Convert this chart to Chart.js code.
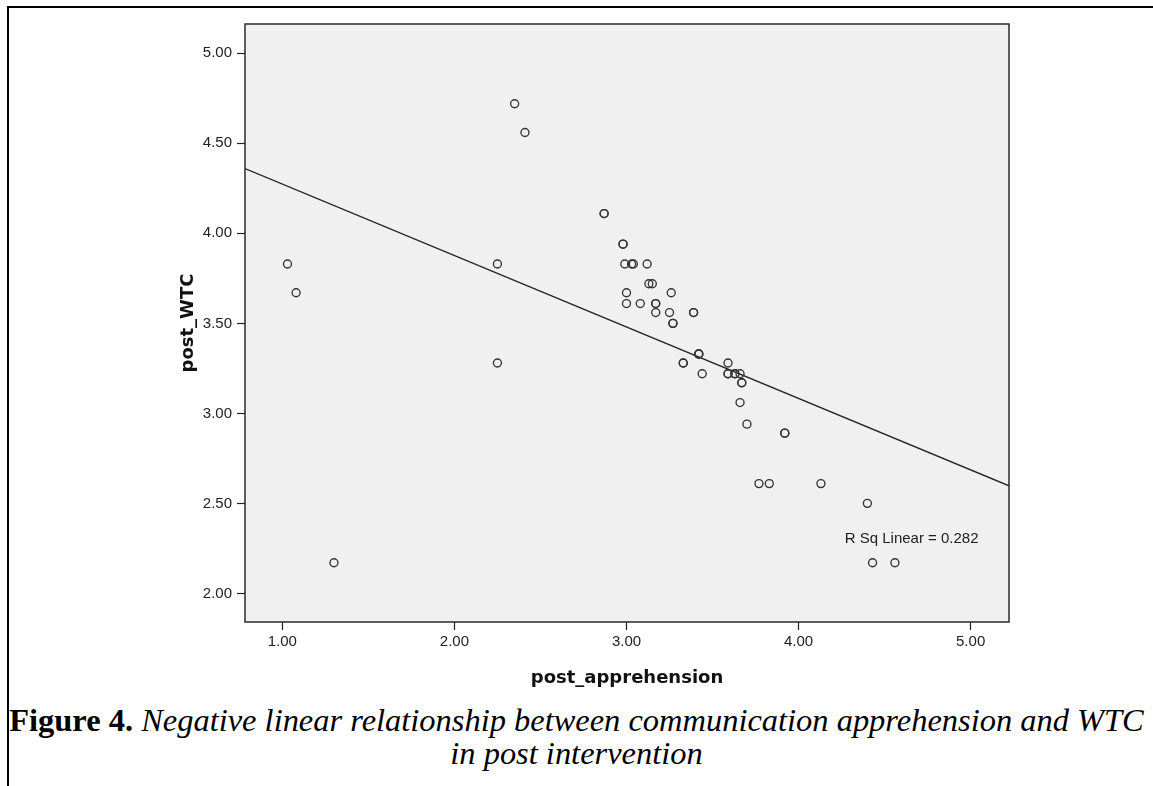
<!DOCTYPE html>
<html><head><meta charset="utf-8">
<script src="https://cdn.jsdelivr.net/npm/chart.js@4.4.0/dist/chart.umd.min.js"></script>
<style>
html,body{margin:0;padding:0;background:#fff;width:1153px;height:786px;overflow:hidden;position:relative;}
#frame{position:absolute;left:7px;top:6px;width:1160px;height:800px;border-top:2px solid #000;border-left:2px solid #000;}
#wrap{position:absolute;left:0;top:0;width:1153px;height:700px;}
.cap{position:absolute;left:0;width:1153px;text-align:center;font-family:"Liberation Serif","Times New Roman",serif;color:#000;white-space:nowrap;line-height:1;}
.cap span{display:inline-block;}
</style></head><body>
<div id="frame"></div>
<div id="wrap"><canvas id="c"></canvas></div>
<div class="cap" id="cap1"><span id="cap1s"><b>Figure 4.</b> <i>Negative linear relationship between communication apprehension and WTC</i></span></div>
<div class="cap" id="cap2"><span><i>in post intervention</i></span></div>
<script>
// ---- data ----
const apprehension = [1.03,1.08,1.30,2.25,2.25,2.35,2.41,2.87,2.87,2.98,2.98,2.99,3.03,3.04,3.12,3.13,3.15,3.00,3.26,3.00,3.08,3.17,3.17,3.17,3.25,3.39,3.39,3.27,3.27,3.42,3.42,3.42,3.33,3.33,3.59,3.44,3.59,3.59,3.63,3.63,3.66,3.67,3.67,3.66,3.70,3.92,3.92,3.77,3.83,4.13,4.40,4.43,4.56];
const postWTC      = [3.83,3.67,2.17,3.83,3.28,4.72,4.56,4.11,4.11,3.94,3.94,3.83,3.83,3.83,3.83,3.72,3.72,3.67,3.67,3.61,3.61,3.61,3.61,3.56,3.56,3.56,3.56,3.50,3.50,3.33,3.33,3.33,3.28,3.28,3.28,3.22,3.22,3.22,3.22,3.22,3.22,3.17,3.17,3.06,2.94,2.89,2.89,2.61,2.61,2.61,2.50,2.17,2.17];
const xTickValues = [1,2,3,4,5];
const yTickValues = [2.0,2.5,3.0,3.5,4.0,4.5,5.0];
const xRange = [0.783, 5.223];
const yRange = [1.841, 5.163];
const fitIntercept = 4.671;
const fitSlope = -0.397;
const rSqText = 'R Sq Linear = 0.282';
const rSqAt = [4.657, 2.303];
const xTitle = 'post_apprehension';
const yTitle = 'post_WTC';

const points = apprehension.map((x,i)=>({x:x,y:postWTC[i]}));
const fitLine = xRange.map(x=>({x:x,y:fitIntercept+fitSlope*x}));

const plotBox = {
  id:'plotBox',
  beforeDraw(chart){
    const a=chart.chartArea, ctx=chart.ctx;
    ctx.save(); ctx.fillStyle='#f0f0f0'; ctx.fillRect(a.left,a.top,a.right-a.left,a.bottom-a.top); ctx.restore();
  },
  afterDatasetsDraw(chart){
    const ctx=chart.ctx, xs=chart.scales.x, ys=chart.scales.y;
    ctx.save();
    ctx.font='15px "Liberation Sans", Arial, sans-serif';
    ctx.fillStyle='#1e1e1e'; ctx.textAlign='center'; ctx.textBaseline='middle';
    ctx.fillText(rSqText, xs.getPixelForValue(rSqAt[0]), ys.getPixelForValue(rSqAt[1]));
    ctx.restore();
  },
  afterDraw(chart){
    const a=chart.chartArea, ctx=chart.ctx;
    ctx.save(); ctx.strokeStyle='#2a2a2a'; ctx.lineWidth=1.5;
    ctx.strokeRect(a.left,a.top,a.right-a.left,a.bottom-a.top); ctx.restore();
  }
};

const tickFont = {family:'"Liberation Sans", Arial, sans-serif', size:15};
const titleFont = {family:'"DejaVu Sans", Verdana, sans-serif', size:18, weight:'bold'};

new Chart(document.getElementById('c'), {
  data:{datasets:[
    {type:'line', data:fitLine, borderColor:'#222', borderWidth:1.3, pointRadius:0, fill:false, tension:0, order:2},
    {type:'scatter', data:points, pointStyle:'circle', radius:4, borderColor:'#333', backgroundColor:'rgba(0,0,0,0)', borderWidth:1.35, order:1}
  ]},
  options:{
    responsive:true, maintainAspectRatio:false, animation:false,
    layout:{padding:{left:175,right:144,top:24,bottom:10}},
    plugins:{legend:{display:false}, tooltip:{enabled:false}},
    scales:{
      x:{type:'linear', min:xRange[0], max:xRange[1],
        afterBuildTicks:s=>{s.ticks=xTickValues.map(v=>({value:v}));},
        afterFit:s=>{s.height=68;},
        ticks:{callback:v=>Number(v).toFixed(2), font:tickFont, color:'#222', padding:3, maxRotation:0, autoSkip:false},
        grid:{drawOnChartArea:false, drawTicks:true, tickLength:8, tickColor:'#222', tickWidth:1.2},
        border:{display:false},
        title:{display:true, text:xTitle, font:titleFont, color:'#111', padding:{top:0,bottom:1}}
      },
      y:{type:'linear', min:yRange[0], max:yRange[1],
        afterBuildTicks:s=>{s.ticks=yTickValues.map(v=>({value:v}));},
        afterFit:s=>{s.width=70;},
        ticks:{callback:v=>Number(v).toFixed(2), font:tickFont, color:'#222', padding:5, autoSkip:false},
        grid:{drawOnChartArea:false, drawTicks:true, tickLength:8, tickColor:'#222', tickWidth:1.2},
        border:{display:false},
        title:{display:true, text:yTitle, font:titleFont, color:'#111', padding:{top:3,bottom:0}}
      }
    }
  },
  plugins:[plotBox]
});

// caption sizing: fit first line to the reference width
(function(){
  const c1=document.getElementById('cap1'), c2=document.getElementById('cap2');
  c1.style.fontSize='100px';
  const w=document.getElementById('cap1s').getBoundingClientRect().width;
  const fs=100*1135/w;
  c1.style.fontSize=fs+'px'; c2.style.fontSize=fs+'px';
  const base1=731, base2=764;
  c1.style.top=(base1-0.8375*fs)+'px';
  c2.style.top=(base2-0.8375*fs)+'px';
})();
</script>
</body></html>
